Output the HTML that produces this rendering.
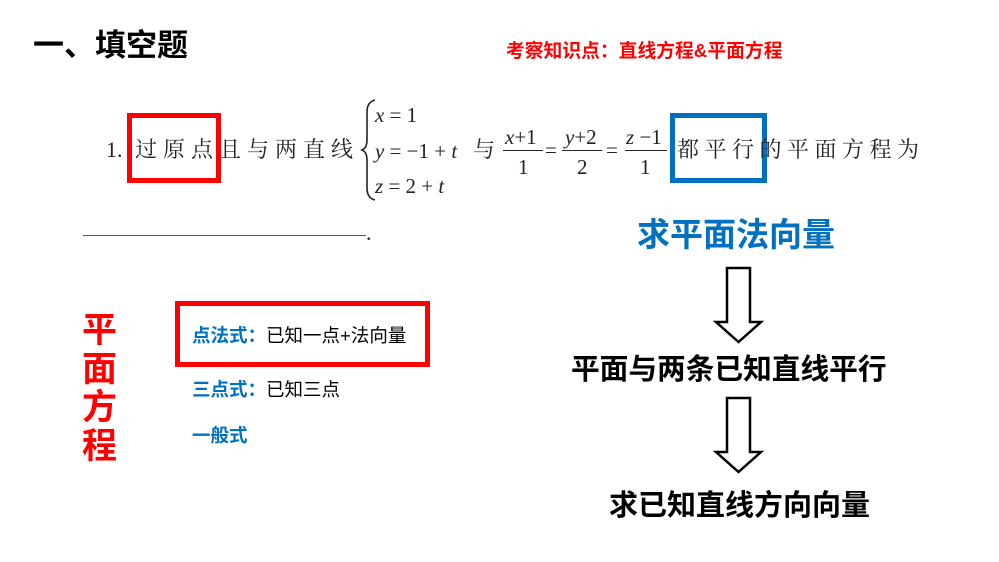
<!DOCTYPE html>
<html><head><meta charset="utf-8"><style>
body{margin:0;width:999px;height:562px;background:#fff;position:relative;overflow:hidden;font-family:"Liberation Sans","Noto Sans CJK SC",sans-serif}
.a{position:absolute;white-space:nowrap;line-height:1}
.s{font-family:"Liberation Serif","Noto Serif CJK SC",serif;font-size:22px;color:#222}
.m{font-family:"Liberation Serif","Noto Serif CJK SC",serif;font-size:21px;color:#222}
.i{font-style:italic}
.b{font-weight:bold}
</style></head><body>
<div class="a b" style="left:33px;top:30px;font-size:31px;color:#000">一、填空题</div>
<div class="a b" style="left:506px;top:42px;font-size:18.8px;color:#f00">考察知识点：直线方程&amp;平面方程</div>

<div class="a s" style="left:106px;top:139px">1.</div>
<div class="a" style="left:127px;top:113px;width:84px;height:60px;border:5px solid #f00"></div>
<div class="a s" style="left:135px;top:139px;letter-spacing:6px">过原点且与两直线</div>
<svg class="a" style="left:360px;top:98px" width="20" height="104"><path d="M15 2 Q7 4 7 14 L7 42 Q7 50 2 52 Q7 54 7 62 L7 90 Q7 100 15 102" fill="none" stroke="#222" stroke-width="1.6"/></svg>
<div class="a m" style="left:375px;top:105px"><span class="i">x</span> = 1</div>
<div class="a m" style="left:375px;top:141px"><span class="i">y</span> = −1 + <span class="i">t</span></div>
<div class="a m" style="left:375px;top:176px"><span class="i">z</span> = 2 + <span class="i">t</span></div>
<div class="a s" style="left:473px;top:139px">与</div>
<div class="a m" style="left:505px;top:127px"><span class="i">x</span>+1</div>
<div class="a" style="left:503px;top:150px;width:40px;border-top:1.3px solid #222"></div>
<div class="a m" style="left:518px;top:157px">1</div>
<div class="a m" style="left:545px;top:140px">=</div>
<div class="a m" style="left:565px;top:127px"><span class="i">y</span>+2</div>
<div class="a" style="left:562px;top:150px;width:40px;border-top:1.3px solid #222"></div>
<div class="a m" style="left:577px;top:157px">2</div>
<div class="a m" style="left:606px;top:140px">=</div>
<div class="a m" style="left:626px;top:127px"><span class="i">z</span> −1</div>
<div class="a" style="left:625px;top:150px;width:42px;border-top:1.3px solid #222"></div>
<div class="a m" style="left:640px;top:157px">1</div>
<div class="a" style="left:670px;top:113px;width:87px;height:60px;border:5px solid #0070c0"></div>
<div class="a s" style="left:677px;top:139px;letter-spacing:5.5px">都平行的平面方程为</div>
<div class="a" style="left:83px;top:235px;width:283px;border-top:1.3px solid #555"></div>
<div class="a s" style="left:366px;top:222px">.</div>

<div class="a b" style="left:637px;top:218px;font-size:33px;color:#0070c0">求平面法向量</div>
<svg class="a" style="left:710px;top:262px" width="60" height="220">
<path d="M17 6 H40 V60 H51 L28.5 80 L6 60 H17 Z" fill="#fff" stroke="#000" stroke-width="2.5"/>
<path d="M17 136 H40 V190 H51 L28.5 210 L6 190 H17 Z" fill="#fff" stroke="#000" stroke-width="2.5"/>
</svg>
<div class="a b" style="left:571px;top:356px;font-size:28.7px;color:#000">平面与两条已知直线平行</div>
<div class="a b" style="left:609px;top:492px;font-size:29px;color:#000">求已知直线方向向量</div>

<div class="a b" style="left:82px;top:312px;font-size:35px;line-height:38.5px;color:#f00;white-space:normal;width:36px">平面方程</div>
<div class="a" style="left:175px;top:301px;width:245px;height:56px;border:5px solid #f00"></div>
<div class="a" style="left:192px;top:327px;font-size:18.5px;color:#000"><span class="b" style="color:#0070c0">点法式：</span>已知一点+法向量</div>
<div class="a" style="left:192px;top:381px;font-size:18.5px;color:#000"><span class="b" style="color:#0070c0">三点式：</span>已知三点</div>
<div class="a b" style="left:192px;top:427px;font-size:18.5px;color:#0070c0">一般式</div>
</body></html>
